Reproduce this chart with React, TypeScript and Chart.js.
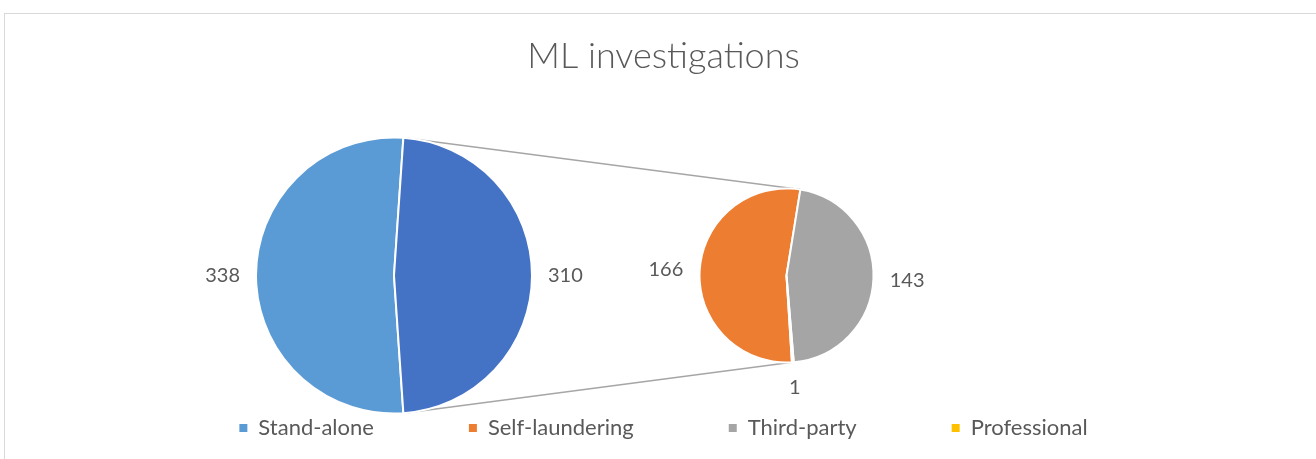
import React, { useEffect, useRef } from 'react';
import { Chart, registerables } from 'chart.js';

Chart.register(...registerables);

// ---- Data ----
const chartTitle = 'ML investigations';
const primaryLabels = ['Stand-alone', 'Other'];
const primaryValues = [338, 310];
const primaryColors = ['#5B9BD5', '#4472C4'];
const secondaryLabels = ['Self-laundering', 'Third-party', 'Professional'];
const secondaryValues = [166, 143, 1];
const secondaryColors = ['#ED7D31', '#A5A5A5', '#FFC000'];
const legendLabels = ['Stand-alone', 'Self-laundering', 'Third-party', 'Professional'];
const legendColors = ['#5B9BD5', '#ED7D31', '#A5A5A5', '#FFC000'];

// ---- Layout / style ----
const W = 1316;
const H = 459;
const TEXT = '#595959';
const FONT = 'Lato, "Open Sans", sans-serif';
const LAYOUT = { mainX: 394, secX: 786.5, cy: 275.5, mainR: 138, secR: 87 };
const LABEL_GAP = 16;

const primaryTotal = primaryValues.reduce((a, b) => a + b, 0);
// rotate so that the "Other" slice is centred on the right (3 o'clock)
const primaryRotation = 90 - ((primaryValues[0] + primaryValues[1] / 2) / primaryTotal) * 360;
const secondaryRotation = 176.4;

const pieOfPiePlugin = {
  id: 'pieOfPie',
  beforeDraw(chart: any) {
    const ctx = chart.ctx;
    ctx.save();
    ctx.fillStyle = '#ffffff';
    ctx.fillRect(0, 0, W, H);
    ctx.strokeStyle = '#D9D9D9';
    ctx.lineWidth = 1;
    ctx.strokeRect(4.5, 13.5, W + 20, H + 20);
    ctx.restore();
  },
  afterDatasetsUpdate(chart: any) {
    const m0 = chart.getDatasetMeta(0);
    m0.data.forEach((arc: any) => {
      arc.x = LAYOUT.mainX;
      arc.y = LAYOUT.cy;
      arc.innerRadius = 0;
      arc.outerRadius = LAYOUT.mainR;
    });
    const m1 = chart.getDatasetMeta(1);
    m1.data.forEach((arc: any) => {
      arc.x = LAYOUT.secX;
      arc.y = LAYOUT.cy;
      arc.innerRadius = 0;
      arc.outerRadius = LAYOUT.secR;
    });
  },
  beforeDatasetsDraw(chart: any) {
    const ctx = chart.ctx;
    const m0 = chart.getDatasetMeta(0).data;
    const m1 = chart.getDatasetMeta(1).data;
    const other = m0[1];
    const top2 = m1[1].startAngle;
    const bot2 = m1[m1.length - 1].endAngle;
    const pt = (arc: any, a: number) => [arc.x + arc.outerRadius * Math.cos(a), arc.y + arc.outerRadius * Math.sin(a)];
    const [ax, ay] = pt(other, other.startAngle);
    const [bx, by] = pt(other, other.endAngle);
    const [cx, cy] = pt(m1[0], top2);
    const [dx, dy] = pt(m1[0], bot2);
    ctx.save();
    ctx.strokeStyle = '#A6A6A6';
    ctx.lineWidth = 1.5;
    ctx.beginPath();
    ctx.moveTo(ax, ay);
    ctx.lineTo(cx, cy);
    ctx.moveTo(bx, by);
    ctx.lineTo(dx, dy);
    ctx.stroke();
    ctx.restore();
  },
  afterDatasetsDraw(chart: any) {
    const ctx = chart.ctx;
    ctx.save();
    ctx.font = `20px ${FONT}`;
    ctx.fillStyle = TEXT;
    ctx.textAlign = 'center';
    ctx.textBaseline = 'middle';
    [0, 1].forEach((di) => {
      const meta = chart.getDatasetMeta(di);
      const values = chart.data.datasets[di].data;
      meta.data.forEach((arc: any, i: number) => {
        const text = String(values[i]);
        const a = (arc.startAngle + arc.endAngle) / 2;
        const halfW = ctx.measureText(text).width / 2;
        const halfH = 9;
        const off = LABEL_GAP + Math.abs(Math.cos(a)) * halfW + Math.abs(Math.sin(a)) * halfH;
        const r = arc.outerRadius + off;
        ctx.fillText(text, arc.x + r * Math.cos(a), arc.y + r * Math.sin(a));
      });
    });
    ctx.restore();
  },
};

export default function App() {
  const ref = useRef<HTMLCanvasElement | null>(null);

  useEffect(() => {
    if (!ref.current) return;
    const chart = new Chart(ref.current, {
      type: 'pie',
      data: {
        labels: primaryLabels,
        datasets: [
          {
            label: 'Primary',
            data: primaryValues,
            backgroundColor: primaryColors,
            borderColor: '#ffffff',
            borderWidth: 2,
            rotation: primaryRotation,
          } as any,
          {
            label: 'Secondary',
            data: secondaryValues,
            backgroundColor: secondaryColors,
            borderColor: '#ffffff',
            borderWidth: 2,
            rotation: secondaryRotation,
            labels: secondaryLabels,
          } as any,
        ],
      },
      options: {
        responsive: false,
        animation: false,
        devicePixelRatio: 1,
        events: [],
        layout: { padding: { left: 11, right: 0, top: 0, bottom: 10 } },
        plugins: {
          tooltip: { enabled: false },
          title: {
            display: true,
            text: chartTitle,
            color: TEXT,
            font: { family: FONT, size: 36, weight: '300' as any },
            padding: { top: 35, bottom: 10 },
          },
          legend: {
            display: true,
            position: 'bottom',
            labels: {
              boxWidth: 8,
              boxHeight: 8,
              padding: 95,
              color: TEXT,
              font: { family: FONT, size: 22 },
              generateLabels: () =>
                legendLabels.map((t, i) => ({
                  text: t,
                  fillStyle: legendColors[i],
                  strokeStyle: legendColors[i],
                  lineWidth: 0,
                  hidden: false,
                  index: i,
                  fontColor: TEXT,
                })),
            },
          },
        },
      },
      plugins: [pieOfPiePlugin],
    });
    if ((document as any).fonts && (document as any).fonts.ready) {
      (document as any).fonts.ready.then(() => chart.update());
    }
    return () => chart.destroy();
  }, []);

  return (
    <div style={{ position: 'absolute', left: 0, top: 0, width: W, height: H, overflow: 'hidden', background: '#fff' }}>
      <canvas ref={ref} width={W} height={H} style={{ display: 'block', width: W, height: H }} />
    </div>
  );
}
